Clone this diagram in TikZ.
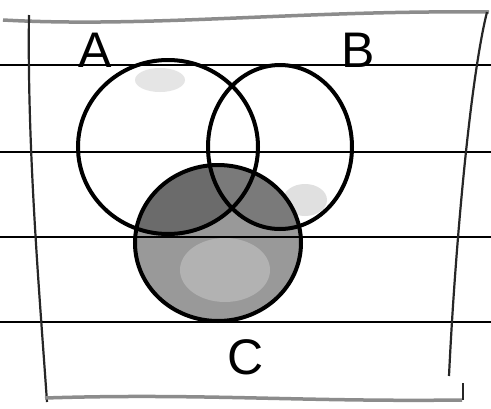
\documentclass[tikz,border=0pt]{standalone}
\usepackage{fontspec}
\setmainfont{Liberation Sans}
\begin{document}
\begin{tikzpicture}[x=1pt,y=-1pt,
  ruled/.style={line width=2.8pt,black},
  margin/.style={line width=2.2pt,black!85},
  pencil/.style={line width=3.5pt,black!45},
  setline/.style={line width=4pt,black},
  setlabel/.style={font=\fontsize{50}{50}\selectfont,inner sep=0pt}]
\useasboundingbox (0,0) rectangle (491,408);
\fill[white] (0,0) rectangle (491,408);
% light pencil marks outside C
\fill[black!12] (305,200) ellipse [x radius=22pt, y radius=16pt];
\fill[black!10] (160,80) ellipse [x radius=25pt, y radius=12pt];
% shading of C
\fill[black!40] (218,243) ellipse [x radius=83pt, y radius=78pt];
\begin{scope}
  \clip (218,243) ellipse [x radius=83pt, y radius=78pt];
  \fill[black!58] (168,147) ellipse [x radius=90pt, y radius=87pt];
  \fill[black!52] (280,147) ellipse [x radius=72pt, y radius=82pt];
  \fill[black!30] (225,270) ellipse [x radius=45pt, y radius=32pt];
\end{scope}
% ruled lines
\coordinate (l1a) at (0,65);  \coordinate (l1b) at (491,65);
\coordinate (l2a) at (0,152); \coordinate (l2b) at (491,152);
\coordinate (l3a) at (0,237); \coordinate (l3b) at (491,237);
\coordinate (l4a) at (0,322); \coordinate (l4b) at (491,322);
\draw[ruled] (l1a) -- (l1b);
\draw[ruled] (l2a) -- (l2b);
\draw[ruled] (l3a) -- (l3b);
\draw[ruled] (l4a) -- (l4b);
% frame
\coordinate (tl) at (3,20); \coordinate (tr) at (489,12);
\draw[pencil] (tl) .. controls (150,28) and (300,10) .. (tr);
\coordinate (lt) at (29,15); \coordinate (lb) at (47,402);
\draw[margin] (lt) .. controls (27,150) and (40,300) .. (lb);
\coordinate (rt) at (487,12); \coordinate (rb) at (449,376);
\draw[margin] (rt) .. controls (470,80) and (455,250) .. (rb);
\coordinate (tk1) at (463,383); \coordinate (tk2) at (463,400);
\draw[margin] (tk1) -- (tk2);
\coordinate (bl) at (45,398); \coordinate (br) at (462,400);
\draw[pencil] (bl) .. controls (200,393) and (300,402) .. (br);
% sets
\draw[setline] (168,147) ellipse [x radius=90pt, y radius=87pt];
\draw[setline] (280,147) ellipse [x radius=72pt, y radius=82pt];
\draw[setline] (218,243) ellipse [x radius=83pt, y radius=78pt];
% labels
\node[setlabel] (A) at (95,50) {A};
\node[setlabel] (B) at (358,50) {B};
\node[setlabel] (C) at (246,357) {C};
\end{tikzpicture}
\end{document}
